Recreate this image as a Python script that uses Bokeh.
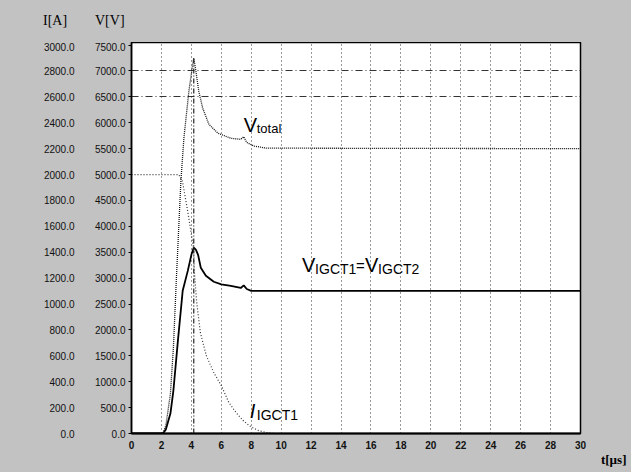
from bokeh.plotting import figure
from bokeh.layouts import column
from bokeh.models import (Range1d, LinearAxis, FixedTicker, NumeralTickFormatter,
                          Label, ColumnDataSource, Title, Div)
from bokeh.embed import file_html
from bokeh.resources import INLINE

# ---------------- data ----------------
# Current of IGCT1 [A] ("I[A]" scale)
t_i = [0, 3.15, 3.4, 3.75, 4.15, 4.2, 4.35, 4.6, 5.0, 5.5, 6.0, 6.5, 7.0, 7.5, 8.0, 8.5, 9.0, 9.5, 30]
i_igct1 = [2000, 2000, 1950, 1720, 1430, 1250, 1020, 780, 600, 470, 370, 240, 160, 95, 50, 22, 8, 0, 0]

# Total voltage [V]
t_vt = [0, 2.1, 2.3, 2.6, 2.8, 3.0, 3.3, 3.5, 3.83, 4.05, 4.16, 4.3, 4.5, 4.76, 5.17, 5.77, 6.64, 7.3, 7.5, 7.7, 8.2, 9.0, 30]
v_total = [0, 0, 160, 770, 1660, 3000, 4875, 5700, 6600, 7050, 7250, 7000, 6600, 6280, 5970, 5800, 5700, 5680, 5730, 5620, 5550, 5510, 5500]

# Voltage of each IGCT [V]
t_vi = [0, 2.1, 2.3, 2.6, 2.8, 3.1, 3.42, 3.76, 4.0, 4.16, 4.3, 4.45, 4.63, 4.97, 5.5, 6.0, 6.64, 7.3, 7.5, 7.7, 8.0, 30]
v_igct = [0, 0, 80, 385, 830, 1790, 2755, 3140, 3450, 3590, 3550, 3450, 3200, 3045, 2930, 2880, 2850, 2810, 2860, 2790, 2755, 2755]

x_ticks = list(range(0, 31, 2))
v_ticks = list(range(0, 7501, 500))
i_ticks = list(range(0, 3001, 200))
hgrid_levels = [6500, 7000]
i_caption = "I[A]"
v_caption = "V[V]"
t_caption = "t[µs]"

V_MAX = 7550
I_MAX = V_MAX / 2.5

GRAY = "#c2c2c2"
HDR_H = 42

# ---------------- header strip: the two axis captions ----------------
hdr_html = (
    '<div style="position:relative;width:631px;height:%dpx;'
    "font-family:'Liberation Serif';font-size:14px;color:black;line-height:16px;\">"
    '<span style="position:absolute;left:43px;top:13px;">%s</span>'
    '<span style="position:absolute;left:95px;top:13px;">%s</span>'
    '</div>' % (HDR_H, i_caption, v_caption)
)
hdr = Div(text=hdr_html, width=631, height=HDR_H, margin=0,
          styles={"background-color": GRAY})

# ---------------- main figure ----------------
p = figure(width=631, height=472 - HDR_H, output_backend="svg", toolbar_location=None,
           x_range=Range1d(0, 30), y_range=Range1d(0, V_MAX),
           min_border_left=131, min_border_right=51, min_border_top=0, min_border_bottom=39)
p.extra_y_ranges = {"I": Range1d(0, I_MAX)}

p.background_fill_color = "white"
p.border_fill_color = GRAY
p.outline_line_color = "black"
p.outline_line_width = 1.5

# grids
p.xgrid.ticker = FixedTicker(ticks=x_ticks)
p.xgrid.grid_line_color = "#333333"
p.xgrid.grid_line_dash = "1 3"
p.xgrid.grid_line_width = 1
p.ygrid.ticker = FixedTicker(ticks=hgrid_levels)
p.ygrid.grid_line_color = "#333333"
p.ygrid.grid_line_dash = "7 3 1 3"
p.ygrid.grid_line_width = 1

# axes
lab_font = "Liberation Sans"
p.xaxis.ticker = FixedTicker(ticks=x_ticks)
p.xaxis.axis_line_width = 2
p.xaxis.axis_line_color = "black"
p.xaxis.major_tick_out = 0
p.xaxis.major_tick_in = 0
p.xaxis.minor_tick_line_color = None
p.xaxis.major_label_standoff = 7
p.xaxis.major_label_text_font = lab_font
p.xaxis.major_label_text_font_size = "10px"
p.xaxis.major_label_text_font_style = "bold"
p.xaxis.major_label_text_color = "#111111"

p.yaxis.ticker = FixedTicker(ticks=v_ticks)
p.yaxis.formatter = NumeralTickFormatter(format="0.0")
p.yaxis.axis_line_width = 1.5
p.yaxis.axis_line_color = "black"
p.yaxis.major_tick_out = 3
p.yaxis.major_tick_in = 0
p.yaxis.minor_tick_line_color = None
p.yaxis.major_label_standoff = 3
p.yaxis.major_label_text_font = lab_font
p.yaxis.major_label_text_font_size = "10px"
p.yaxis.major_label_text_color = "#111111"

i_axis = LinearAxis(y_range_name="I", ticker=FixedTicker(ticks=i_ticks),
                    formatter=NumeralTickFormatter(format="0.0"))
i_axis.axis_line_color = None
i_axis.major_tick_line_color = None
i_axis.minor_tick_line_color = None
i_axis.major_label_standoff = 11
i_axis.major_label_text_font = lab_font
i_axis.major_label_text_font_size = "10px"
i_axis.major_label_text_color = "#111111"
p.add_layout(i_axis, "left")

# x-axis caption at the right end, below the axis
t_cap = Title(text=t_caption, align="right", offset=-46, vertical_align="top", standoff=0,
              text_font="Liberation Serif", text_font_size="13px", text_font_style="bold",
              text_color="black")
p.add_layout(t_cap, "below")

# ---------------- curves ----------------
src_i = ColumnDataSource(dict(t=t_i, i=i_igct1))
src_vt = ColumnDataSource(dict(t=t_vt, v=v_total))
src_vi = ColumnDataSource(dict(t=t_vi, v=v_igct))

p.line("t", "i", source=src_i, y_range_name="I", line_color="#333333",
       line_width=1.2, line_dash="1 2")
p.line("t", "v", source=src_vt, line_color="#111111", line_width=1.3, line_dash="1 1")
p.line("t", "v", source=src_vi, line_color="black", line_width=1.8)

# cursor line at the peak of the total voltage
k_pk = v_total.index(max(v_total))
p.segment(x0=[t_vt[k_pk]], y0=[0], x1=[t_vt[k_pk]], y1=[v_total[k_pk]],
          line_color="#222222", line_width=1.2, line_dash="5 2 1 2")

# ---------------- curve labels ----------------
def lab(x, y, text, size, xo=0, yo=0, style="normal"):
    p.add_layout(Label(x=x, y=y, text=text, x_offset=xo, y_offset=yo,
                       text_font="Liberation Sans", text_font_size=size, text_font_style=style,
                       text_align="left", text_baseline="alphabetic", text_color="black"))

# V_total
ax, ay = 7.5, 5960
lab(ax, ay, "V", "20px")
lab(ax, ay, "total", "13px", xo=13, yo=-4)

# V_IGCT1 = V_IGCT2
bx, by = 11.4, 3250
lab(bx, by, "V", "20px")
lab(bx, by, "IGCT1", "14px", xo=13, yo=-4)
lab(bx, by, "=", "15px", xo=54)
lab(bx, by, "V", "20px", xo=63)
lab(bx, by, "IGCT2", "14px", xo=76, yo=-4)

# I_IGCT1
cx, cy = 7.9, 440
lab(cx, cy, "I", "20px", style="italic")
lab(cx, cy, "IGCT1", "14px", xo=7, yo=-4)

layout = column(hdr, p, spacing=0, styles={"background-color": GRAY})
open("out.html", "w").write(file_html(layout, INLINE))
